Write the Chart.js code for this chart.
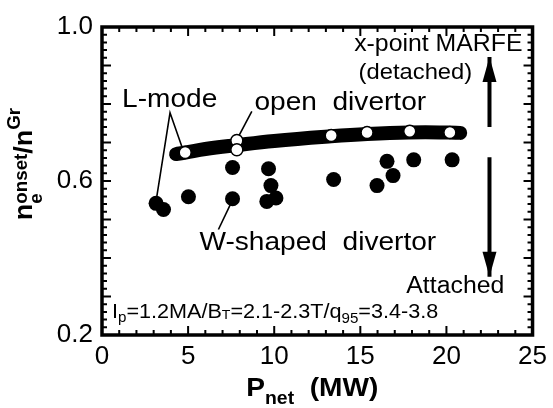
<!DOCTYPE html>
<html lang="en">
<head>
<meta charset="UTF-8">
<title>MARFE onset density vs net power</title>
<script src="https://cdn.jsdelivr.net/npm/chart.js@4.4.0/dist/chart.umd.min.js"></script>
<style>
    html, body { margin: 0; padding: 0; background: #fff; }
    #wrap { width: 553px; height: 408px; }
</style>
</head>
<body>
<div id="wrap"><canvas id="chart" width="553" height="408"></canvas></div>
<script>
// W-shaped divertor shots (filled circles)
const wX = [3.14, 3.57, 5.02, 7.58, 7.58, 9.67, 9.81, 9.57, 10.1, 13.45, 15.97, 16.55, 16.9, 18.1, 20.33];
const wY = [0.542, 0.526, 0.559, 0.635, 0.554, 0.632, 0.588, 0.547, 0.556, 0.604, 0.588, 0.651, 0.614, 0.655, 0.655];
// open divertor shots (open circles)
const openX = [4.83, 7.83, 7.83, 13.31, 15.39, 17.87, 20.2];
const openY = [0.674, 0.705, 0.681, 0.718, 0.726, 0.729, 0.726];
// thick band drawn through the open divertor points
const bandX = [4.3, 4.85, 6.0, 7.8, 10.0, 13.3, 15.4, 17.8, 20.1, 20.8];
const bandY = [0.670, 0.674, 0.683, 0.693, 0.704, 0.716, 0.722, 0.726, 0.726, 0.725];
// leader lines for the labels
const lModeX = [3.14, 3.95, 4.63];
const lModeY = [0.548, 0.777, 0.690];
const openLeadX = [8.70, 7.93];
const openLeadY = [0.781, 0.716];
const wLeadX = [7.54, 6.76];
const wLeadY = [0.547, 0.474];
// detached / attached arrows (tail, tip)
const arrowX = 22.5;
const upArrowY = [0.740, 0.922];
const downArrowY = [0.662, 0.351];
// axes
const xTickLabels = [0, 5, 10, 15, 20, 25];
const yTickLabels = [0.2, 0.6, 1.0];

const FONT = '"Liberation Sans", Arial, Helvetica, sans-serif';
const pts = (xs, ys) => xs.map((x, i) => ({ x: x, y: ys[i] }));

// text notes, placed in data coordinates
// part: [text, size, dy, noAdvance]
const notes = [
    { x: 3.93, y: 0.792, align: 'center', parts: [['L-mode', 26]] },
    { x: 8.85, y: 0.784, align: 'left', parts: [['open  divertor', 26]] },
    { x: 5.66, y: 0.421, align: 'left', parts: [['W-shaped  divertor', 26]] },
    { x: 24.42, y: 0.938, align: 'right', parts: [['x-point MARFE', 23]] },
    { x: 14.9, y: 0.865, align: 'left', parts: [['(detached)', 22]] },
    { x: 17.67, y: 0.309, align: 'left', parts: [['Attached', 23]] },
    { x: 0.58, y: 0.245, align: 'left', parts: [['I', 20], ['p', 14, 4], ['=1.2MA/B', 20], ['T', 13, 1], ['=2.1-2.3T/q', 20], ['95', 14, 5], ['=3.4-3.8', 20]] }
];

function richWidth(ctx, parts, bold) {
    let w = 0;
    parts.forEach(p => {
        if (p[3]) return;
        ctx.font = (bold ? 'bold ' : '') + p[1] + 'px ' + FONT;
        w += ctx.measureText(p[0]).width;
    });
    return w;
}

function drawRich(ctx, parts, x, y, align, bold, sx, rot) {
    ctx.save();
    ctx.translate(x, y);
    if (rot) ctx.rotate(rot);
    ctx.scale(sx, 1);
    const w = richWidth(ctx, parts, bold);
    let cx = align === 'center' ? -w / 2 : align === 'right' ? -w : 0;
    ctx.fillStyle = '#000';
    ctx.textBaseline = 'alphabetic';
    ctx.textAlign = 'left';
    parts.forEach(p => {
        ctx.font = (bold ? 'bold ' : '') + p[1] + 'px ' + FONT;
        ctx.fillText(p[0], cx, p[2] || 0);
        if (!p[3]) cx += ctx.measureText(p[0]).width;
    });
    ctx.restore();
}

const framePlugin = {
    id: 'frame',
    afterDraw(chart) {
        const ctx = chart.ctx;
        const a = chart.chartArea;
        const xs = chart.scales.x, ys = chart.scales.y;
        ctx.save();
        ctx.strokeStyle = '#000';
        // inward ticks on all four sides
        ctx.lineWidth = 2;
        ctx.beginPath();
        xs.ticks.forEach(t => {
            const px = xs.getPixelForValue(t.value);
            const len = t.value % 5 === 0 ? 9 : 5;
            ctx.moveTo(px, a.bottom); ctx.lineTo(px, a.bottom - len);
            ctx.moveTo(px, a.top); ctx.lineTo(px, a.top + len);
        });
        ys.ticks.forEach(t => {
            const py = ys.getPixelForValue(t.value);
            const len = Math.round(t.value * 100) % 10 === 0 ? 9 : 5;
            ctx.moveTo(a.left, py); ctx.lineTo(a.left + len, py);
            ctx.moveTo(a.right, py); ctx.lineTo(a.right - len, py);
        });
        ctx.stroke();
        ctx.lineWidth = 3.5;
        ctx.strokeRect(a.left, a.top, a.right - a.left, a.bottom - a.top);

        // arrow heads at the tip of each arrow dataset
        [5, 6].forEach(i => {
            const d = chart.getDatasetMeta(i).data;
            const tip = d[1], tail = d[0];
            const dir = tip.y < tail.y ? 1 : -1;
            ctx.beginPath();
            ctx.moveTo(tip.x, tip.y);
            ctx.lineTo(tip.x - 7, tip.y + dir * 25);
            ctx.lineTo(tip.x + 7, tip.y + dir * 25);
            ctx.closePath();
            ctx.fillStyle = '#000';
            ctx.fill();
        });

        notes.forEach(n => {
            drawRich(ctx, n.parts, xs.getPixelForValue(n.x), ys.getPixelForValue(n.y), n.align, false, 1.08, 0);
        });

        // axis titles
        drawRich(ctx, [['P', 26], ['net', 18, 8], ['  (MW)', 26]], (a.left + a.right) / 2 - 5, 396, 'center', true, 1.08, 0);
        drawRich(ctx, [['n', 26], ['e', 18, 10, true], ['onset', 18, -5], ['/n', 26], ['Gr', 18, -12]], 32, 164, 'center', true, 1.04, -Math.PI / 2);
        ctx.restore();
    }
};

const lineSet = (data, width, order) => ({
    data: data, showLine: true, borderColor: '#000', borderWidth: width,
    pointRadius: 0, pointHoverRadius: 0, order: order
});

new Chart(document.getElementById('chart'), {
    type: 'scatter',
    data: {
        datasets: [
            { data: pts(openX, openY), pointRadius: 6, pointBackgroundColor: '#fff', pointBorderColor: '#000', pointBorderWidth: 1.5, order: 0 },
            { data: pts(wX, wY), pointRadius: 7.5, pointBackgroundColor: '#000', pointBorderColor: '#000', pointBorderWidth: 0, order: 1 },
            Object.assign(lineSet(pts(bandX, bandY), 14, 3), { tension: 0.4, borderCapStyle: 'round', borderJoinStyle: 'round' }),
            lineSet(pts(lModeX, lModeY), 1.6, 2),
            lineSet(pts(openLeadX, openLeadY), 1.6, 2),
            lineSet(pts([arrowX, arrowX], upArrowY), 4, 2),
            lineSet(pts([arrowX, arrowX], downArrowY), 4, 2),
            lineSet(pts(wLeadX, wLeadY), 1.6, 2)
        ]
    },
    options: {
        responsive: false,
        animation: false,
        devicePixelRatio: 1,
        events: [],
        layout: { padding: { top: 27, right: 18, left: 0, bottom: 0 } },
        plugins: { legend: { display: false }, tooltip: { enabled: false } },
        scales: {
            x: {
                type: 'linear', min: 0, max: 25,
                grid: { display: false, drawTicks: false },
                border: { display: false },
                ticks: {
                    stepSize: 1, autoSkip: false, maxRotation: 0, padding: 6,
                    color: '#000', font: { family: FONT, size: 26 },
                    callback: v => xTickLabels.includes(v) ? String(v) : ''
                },
                afterFit: s => { s.height = 73; }
            },
            y: {
                type: 'linear', min: 0.2, max: 1.0,
                grid: { display: false, drawTicks: false },
                border: { display: false },
                ticks: {
                    stepSize: 0.02, autoSkip: false, padding: 9,
                    color: '#000', font: { family: FONT, size: 26 },
                    callback: v => yTickLabels.some(t => Math.abs(t - v) < 1e-6) ? v.toFixed(1) : ''
                },
                afterFit: s => { s.width = 102; }
            }
        }
    },
    plugins: [framePlugin]
});
</script>
</body>
</html>
